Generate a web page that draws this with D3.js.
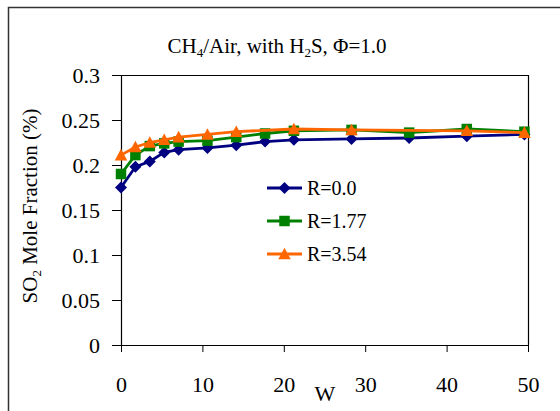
<!DOCTYPE html>
<html>
<head>
<meta charset="utf-8">
<script src="https://cdn.jsdelivr.net/npm/d3@7"></script>
<style>
  html, body { margin: 0; padding: 0; background: #fff; }
  svg { display: block; }
</style>
</head>
<body>
<svg id="chart" width="560" height="411"></svg>
<script>
// Mixing parameter W and SO2 mole fraction (%) for each R series
const wValues = [0, 1.77, 3.54, 5.31, 7.08, 10.62, 14.16, 17.7, 21.24, 28.32, 35.4, 42.48, 49.56];
const so2R000 = [0.175, 0.198, 0.204, 0.214, 0.217, 0.219, 0.222, 0.226, 0.228, 0.229, 0.230, 0.232, 0.234];
const so2R177 = [0.190, 0.211, 0.221, 0.224, 0.226, 0.227, 0.231, 0.235, 0.238, 0.239, 0.236, 0.240, 0.237];
const wR354   = [0, 1.77, 3.54, 5.31, 7.08, 10.62, 14.16, 21.24, 28.32, 42.48, 49.56];
const so2R354 = [0.211, 0.220, 0.225, 0.228, 0.231, 0.234, 0.237, 0.240, 0.239, 0.238, 0.236];

const seriesNames = ["R=0.0", "R=1.77", "R=3.54"];
const seriesColors = ["#000080", "#008000", "#FF6600"];

const xTicks = [0, 10, 20, 30, 40, 50];
const yTicks = [0, 0.05, 0.1, 0.15, 0.2, 0.25, 0.3];
const yTickLabels = ["0", "0.05", "0.1", "0.15", "0.2", "0.25", "0.3"];

const FONT = "Liberation Serif";

// marker shapes: size is the full marker width in px
const diamond = {
  draw(ctx, size) {
    const r = size / 2;
    ctx.moveTo(0, -r); ctx.lineTo(r, 0); ctx.lineTo(0, r); ctx.lineTo(-r, 0); ctx.closePath();
  }
};
const square = {
  draw(ctx, size) {
    const r = size / 2;
    ctx.rect(-r, -r, size, size);
  }
};
const triangle = {
  draw(ctx, size) {
    const r = size / 2;
    ctx.moveTo(0, -r); ctx.lineTo(r, r * 0.85); ctx.lineTo(-r, r * 0.85); ctx.closePath();
  }
};
const seriesSymbols = [diamond, square, triangle];
const markerWidths = [12, 10.5, 12.5];

const series = seriesNames.map((name, i) => ({
  name, color: seriesColors[i], symbol: seriesSymbols[i], size: markerWidths[i],
  pts: i === 0 ? wValues.map((w, j) => [w, so2R000[j]])
     : i === 1 ? wValues.map((w, j) => [w, so2R177[j]])
     : wR354.map((w, j) => [w, so2R354[j]])
}));

const svg = d3.select("#chart").attr("font-family", FONT);
const plotL = 121, plotR = 528, plotT = 75, plotB = 345;

const x = d3.scaleLinear().domain([0, 50]).range([plotL, plotR]);
const y = d3.scaleLinear().domain([0, 0.3]).range([plotB, plotT]);

// outer chart frame
svg.append("rect")
  .attr("x", 8.5).attr("y", 7.5).attr("width", 600).attr("height", 500)
  .attr("fill", "none").attr("stroke", "#333").attr("stroke-width", 1.5);

// title with subscripts
const title = svg.append("text")
  .attr("x", 277).attr("y", 53).attr("text-anchor", "middle")
  .attr("font-family", FONT).attr("font-size", 21).attr("fill", "#000");
title.append("tspan").text("CH");
title.append("tspan").text("4").attr("font-size", 13).attr("dy", 4);
title.append("tspan").text("/Air, with H").attr("dy", -4);
title.append("tspan").text("2").attr("font-size", 13).attr("dy", 4);
title.append("tspan").text("S, \u03A6=1.0").attr("dy", -4);

// plot frame (top and right)
svg.append("path")
  .attr("d", `M${plotL},${plotT + 0.5}H${plotR + 0.5}V${plotB}`)
  .attr("fill", "none").attr("stroke", "#000").attr("stroke-width", 1.2);

// y axis
const yAxis = svg.append("g")
  .attr("transform", `translate(${plotL},0)`)
  .call(d3.axisLeft(y).tickValues(yTicks)
    .tickFormat((d, i) => yTickLabels[i]).tickSize(9).tickSizeOuter(0).tickPadding(12));
yAxis.attr("font-family", FONT).attr("font-size", 22);
yAxis.select(".domain").attr("stroke", "#000").attr("stroke-width", 1.2);
yAxis.selectAll(".tick line").attr("stroke", "#000").attr("stroke-width", 1);
yAxis.selectAll(".tick text").attr("font-family", FONT).attr("fill", "#000");

// x axis
const xAxis = svg.append("g")
  .attr("transform", `translate(0,${plotB})`)
  .call(d3.axisBottom(x).tickValues(xTicks).tickSize(7).tickSizeOuter(0).tickPadding(24));
xAxis.attr("font-family", FONT).attr("font-size", 22);
xAxis.select(".domain").attr("stroke", "#000").attr("stroke-width", 1.2);
xAxis.selectAll(".tick line").attr("stroke", "#000").attr("stroke-width", 1);
xAxis.selectAll(".tick text").attr("font-family", FONT).attr("fill", "#000");

// axis titles
svg.append("text")
  .attr("x", 325).attr("y", 401).attr("text-anchor", "middle")
  .attr("font-family", FONT).attr("font-size", 22).attr("fill", "#000").text("W");

const yl = svg.append("text")
  .attr("transform", "translate(37,206) rotate(-90)")
  .attr("text-anchor", "middle")
  .attr("font-family", FONT).attr("font-size", 21).attr("fill", "#000");
yl.append("tspan").text("SO");
yl.append("tspan").text("2").attr("font-size", 13).attr("dy", 4);
yl.append("tspan").text(" Mole Fraction (%)").attr("dy", -4);

// series lines and markers
const line = d3.line().x(d => x(d[0])).y(d => y(d[1]));
series.forEach(s => {
  svg.append("path").datum(s.pts)
    .attr("d", line).attr("fill", "none")
    .attr("stroke", s.color).attr("stroke-width", 2.8);
  svg.append("g").selectAll("path").data(s.pts).join("path")
    .attr("transform", d => `translate(${x(d[0])},${y(d[1])})`)
    .attr("d", d3.symbol().type(s.symbol).size(s.size))
    .attr("fill", s.color);
});

// legend
const legend = svg.append("g");
series.forEach((s, i) => {
  const ly = 188 + i * 33;
  legend.append("line")
    .attr("x1", 267).attr("x2", 302).attr("y1", ly).attr("y2", ly)
    .attr("stroke", s.color).attr("stroke-width", 2.8);
  legend.append("path")
    .attr("transform", `translate(284.5,${ly})`)
    .attr("d", d3.symbol().type(s.symbol).size(s.size))
    .attr("fill", s.color);
  legend.append("text")
    .attr("x", 307).attr("y", ly + 7)
    .attr("font-family", FONT).attr("font-size", 20).attr("fill", "#000").text(s.name);
});
</script>
</body>
</html>
